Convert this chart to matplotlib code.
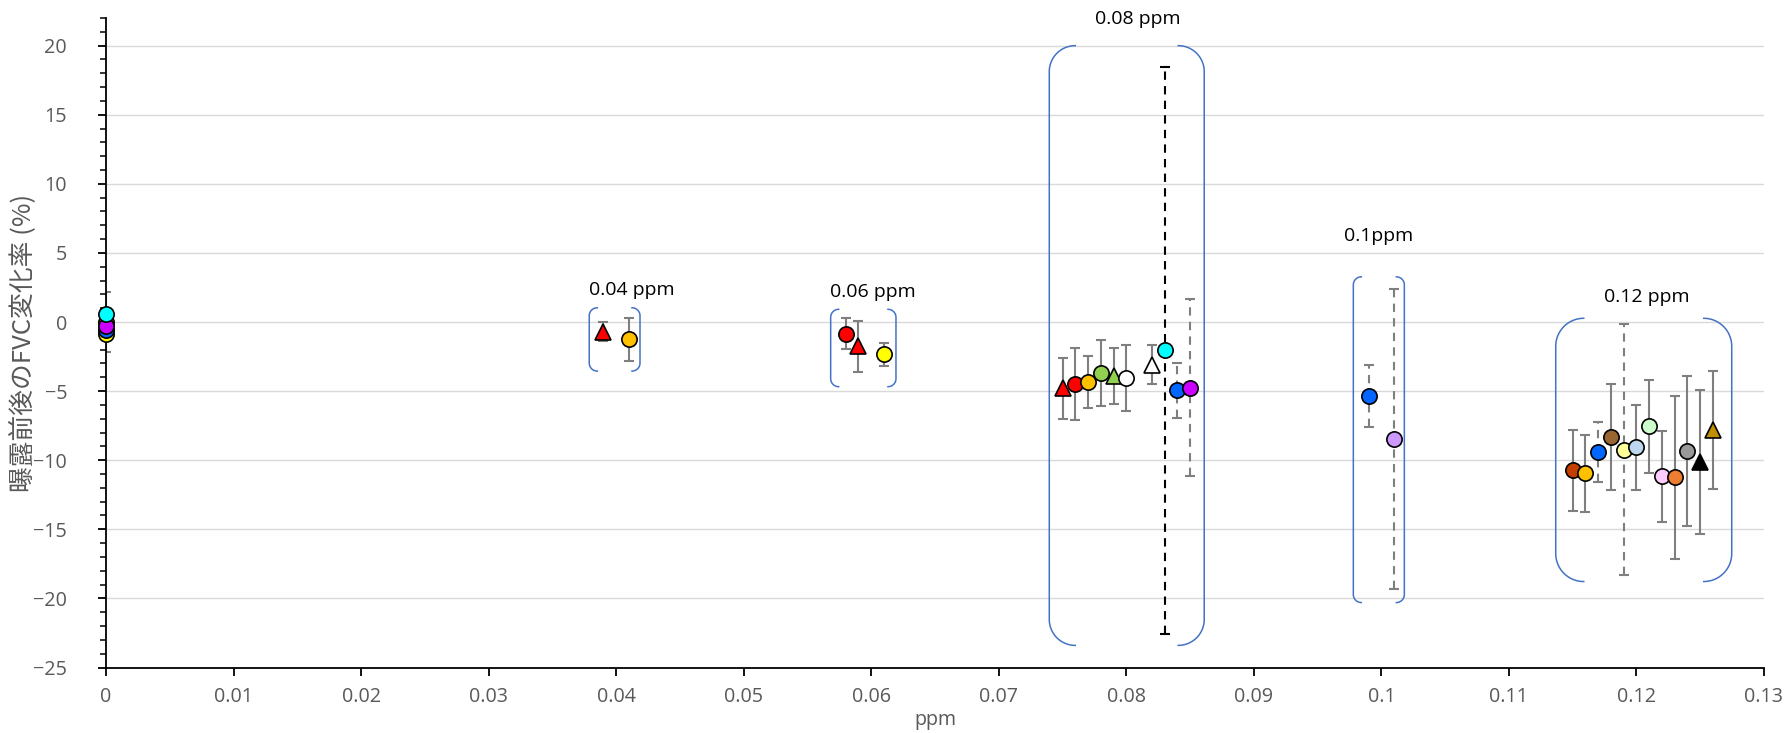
import numpy as np
import matplotlib
matplotlib.use("Agg")
import matplotlib.pyplot as plt

plt.rcParams['font.family'] = ['Open Sans', 'DejaVu Sans']

# points: dose position, mean change, error, face colour, marker, error style
xs = [0, 0, 0, 0, 0,
      0.039, 0.041,
      0.058, 0.059, 0.061,
      0.075, 0.076, 0.077, 0.078, 0.079, 0.080, 0.082, 0.083, 0.084, 0.085,
      0.099, 0.101,
      0.115, 0.116, 0.117, 0.118, 0.119, 0.120, 0.121, 0.122, 0.123, 0.124, 0.125, 0.126]
ys = [0.0, -0.9, -0.6, -0.3, 0.6,
      -0.7, -1.25,
      -0.86, -1.75, -2.33,
      -4.8, -4.46, -4.35, -3.68, -3.9, -4.06, -3.09, -2.05, -4.93, -4.75,
      -5.36, -8.47,
      -10.72, -10.94, -9.40, -8.30, -9.23, -9.08, -7.56, -11.17, -11.25, -9.34, -10.13, -7.79]
errs = [2.2, 0, 0, 0, 0,
        0.7, 1.54,
        1.12, 1.85, 0.83,
        2.2, 2.6, 1.88, 2.38, 2.04, 2.37, 1.4, 20.5, 2.0, 6.4,
        2.25, 10.87,
        2.94, 2.8, 2.15, 3.85, 9.09, 3.11, 3.4, 3.27, 5.93, 5.43, 5.22, 4.28]
colors = ['#FFC000', '#FFFF00', '#0066FF', '#CC00FF', '#00FFFF',
          '#FF0000', '#FFC000',
          '#FF0000', '#FF0000', '#FFFF00',
          '#FF0000', '#FF0000', '#FFC000', '#92D050', '#92D050', '#FFFFFF', '#FFFFFF',
          '#00FFFF', '#0066FF', '#CC00FF',
          '#0066FF', '#CC99FF',
          '#C43E00', '#FFC000', '#0066FF', '#996633', '#FFFF99', '#BDD7EE', '#CCFFCC',
          '#FFCCFF', '#ED7D31', '#999999', '#000000', '#BF8F00']
markers = ['o', 'o', 'o', 'o', 'o',
           '^', 'o',
           'o', '^', 'o',
           '^', 'o', 'o', 'o', '^', 'o', '^', 'o', 'o', 'o',
           'o', 'o',
           'o', 'o', 'o', 'o', 'o', 'o', 'o', 'o', 'o', 'o', '^', '^']
err_styles = ['-', '-', '-', '-', '-',
              '-', '-',
              '-', '-', '-',
              '-', '-', '-', '-', '-', '-', '-', 'k--', '--', '--',
              '--', '--',
              '-', '-', '--', '-', '--', '-', '-', '-', '-', '-', '-', '-']

# bracket groups: left, right, top, bottom, corner (px)
br_left = [0.03789, 0.05682, 0.07396, 0.0978, 0.11367]
br_right = [0.04187, 0.06194, 0.08611, 0.1018, 0.12747]
br_top = [1.03, 0.92, 20.0, 3.27, 0.27]
br_bottom = [-3.55, -4.68, -23.4, -20.3, -18.78]
br_corner = [8, 8, 26, 8, 28]

label_text = ['0.04 ppm', '0.06 ppm', '0.08 ppm', '0.1ppm', '0.12 ppm']
label_x = [0.04125, 0.0601, 0.0809, 0.0998, 0.1208]
label_y = [2.3, 2.2, 21.9, 6.2, 1.8]

W, H = 1789, 733
fig = plt.figure(figsize=(W / 100, H / 100), dpi=100)
ax_l, ax_r, ax_t, ax_b = 106, 1764, 18, 667.5
ax = fig.add_axes([ax_l / W, 1 - ax_b / H, (ax_r - ax_l) / W, (ax_b - ax_t) / H])

ax.set_xlim(0, 0.13)
ax.set_ylim(-25, 22)
xpp = 0.13 / (ax_r - ax_l)   # data per pixel
ypp = 47 / (ax_b - ax_t)

ax.set_yticks(np.arange(-25, 21, 5))
ax.set_yticks(np.arange(-25, 23, 1), minor=True)
ax.set_xticks(np.arange(0, 0.1301, 0.01))
ax.set_xticklabels(['0', '0.01', '0.02', '0.03', '0.04', '0.05', '0.06', '0.07',
                    '0.08', '0.09', '0.1', '0.11', '0.12', '0.13'])
ax.grid(axis='y', color='#d9d9d9', lw=1)
ax.set_axisbelow(True)
for s in ['top', 'right']:
    ax.spines[s].set_visible(False)
for s in ['left', 'bottom']:
    ax.spines[s].set_color('black')
    ax.spines[s].set_linewidth(1.3)
ax.tick_params(axis='y', which='major', length=6, width=1.3, colors='black',
               labelcolor='#595959', labelsize=14.2, pad=22)
ax.tick_params(axis='y', which='minor', length=4, width=1.1, colors='black')
ax.tick_params(axis='x', which='major', length=6, width=1.3, colors='black',
               labelcolor='#595959', labelsize=14.2, pad=8)
ax.set_xlabel('ppm', color='#595959', fontsize=14.2, labelpad=2)
ax.set_ylabel('曝露前後のFVC変化率 (%)', color='#595959', fontsize=18.5,
              family=['Noto Sans CJK JP', 'DejaVu Sans'])
ax.yaxis.set_label_coords(-0.042, 0.5)

# error bars
for x, y, e, st in zip(xs, ys, errs, err_styles):
    if e == 0:
        continue
    col = '#000000' if st.startswith('k') else '#7F7F7F'
    ls = (0, (4, 3)) if '--' in st else '-'
    eb = ax.errorbar(x, y, yerr=e, fmt='none', ecolor=col, elinewidth=1.5,
                     capsize=3.4, capthick=1.5, zorder=2)
    eb[2][0].set_linestyle(ls)

# markers (x=0 stack drawn in listed order)
for x, y, c, m in zip(xs, ys, colors, markers):
    ax.plot(x, y, marker=m, ms=11, mfc=c, mec='black', mew=1.2, ls='none',
            zorder=3, clip_on=False)

# brackets
for l, r, t, b, cpx in zip(br_left, br_right, br_top, br_bottom, br_corner):
    rx = cpx * xpp
    ry = cpx * ypp
    th = np.linspace(0, np.pi / 2, 30)
    # left bracket
    top_arc_x = l + rx - rx * np.sin(th)
    top_arc_y = t - ry + ry * np.cos(th)
    bot_arc_x = l + rx - rx * np.cos(th)
    bot_arc_y = b + ry - ry * np.sin(th)
    ax.plot(np.r_[top_arc_x, bot_arc_x], np.r_[top_arc_y, bot_arc_y],
            color='#4472C4', lw=1.1, zorder=1.5)
    # right bracket (mirror)
    ax.plot(np.r_[r - (top_arc_x - l), r - (bot_arc_x - l)],
            np.r_[top_arc_y, bot_arc_y], color='#4472C4', lw=1.1, zorder=1.5)

for txt, x, y in zip(label_text, label_x, label_y):
    ax.text(x, y, txt, ha='center', va='center', fontsize=14, color='black',
            clip_on=False)

fig.savefig('out.png', dpi=100)
